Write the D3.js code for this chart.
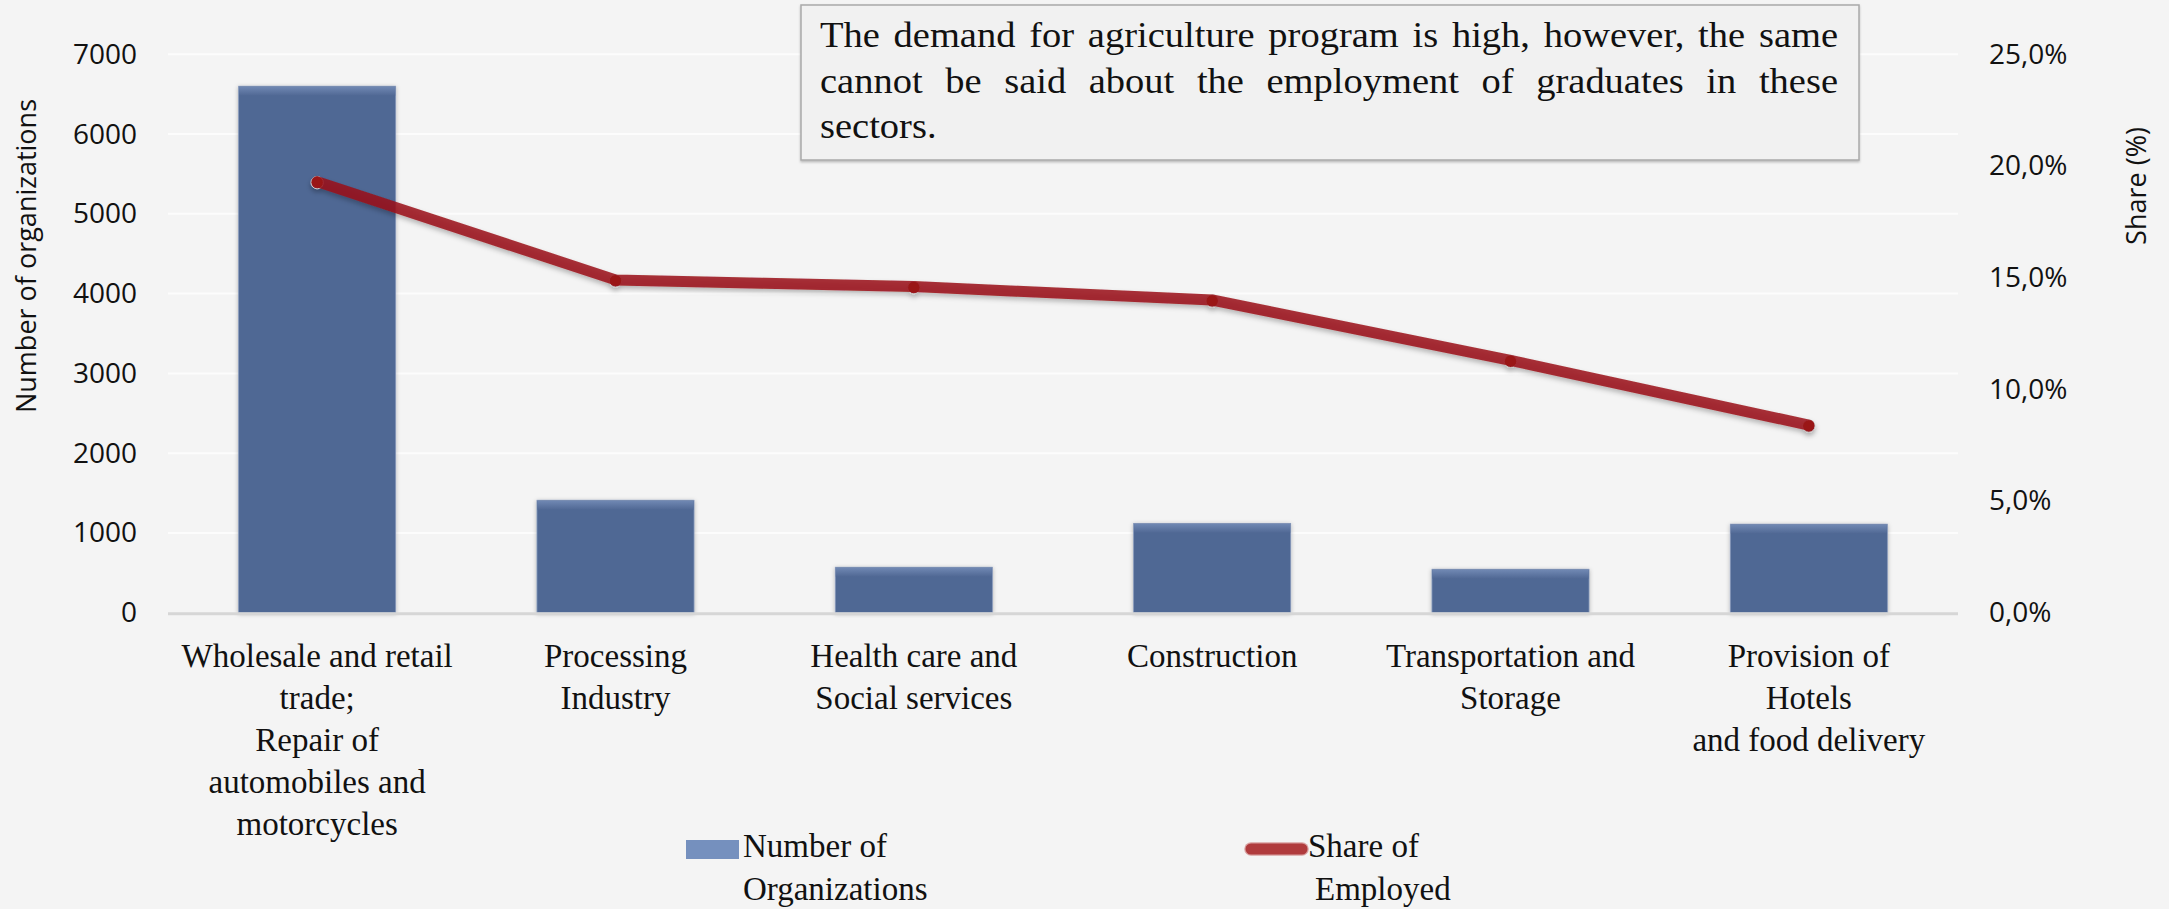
<!DOCTYPE html>
<html>
<head>
<meta charset="utf-8">
<script src="https://cdn.jsdelivr.net/npm/d3@7"></script>
<style>
  html, body { margin: 0; padding: 0; background: #f4f4f4; }
  svg { display: block; }
  .sans { font-family: "Open Sans", "Liberation Sans", sans-serif; fill: #111; }
  .serif { font-family: "Liberation Serif", "DejaVu Serif", serif; fill: #111; }
</style>
</head>
<body>
<svg id="chart" width="2169" height="909"></svg>
<script>
// Sectors shown along the x axis ("\n" marks a line break in the label)
const categories = [
  "Wholesale and retail\ntrade;\nRepair of\nautomobiles and\nmotorcycles",
  "Processing\nIndustry",
  "Health care and\nSocial services",
  "Construction",
  "Transportation and\nStorage",
  "Provision of\nHotels\nand food delivery"
];
// Number of organizations per sector (left axis)
const organizations = [6600, 1410, 570, 1120, 545, 1110];
// Share of employed graduates per sector, % (right axis)
const sharePct = [19.3, 14.9, 14.6, 14.0, 11.3, 8.4];
// Axis ticks
const leftTicks = [0, 1000, 2000, 3000, 4000, 5000, 6000, 7000];
const rightTicks = [0, 5, 10, 15, 20, 25];
// Annotation and legend text
const noteLines = [
  "The demand for agriculture program is high, however, the same",
  "cannot be said about the employment of graduates in these",
  "sectors."
];
const legendBar = ["Number of", "Organizations"];
const legendLine = ["Share of", "Employed"];

const svg = d3.select("#chart");
const W = 2169, H = 909;
const plot = { left: 168, right: 1958, top: 54.3, bottom: 612.7 };

svg.append("rect").attr("width", W).attr("height", H).attr("fill", "#f4f4f4");

// Effects
const defs = svg.append("defs");
const barShadow = defs.append("filter").attr("id", "barShadow")
  .attr("x", "-10%").attr("y", "-10%").attr("width", "120%").attr("height", "120%");
barShadow.append("feDropShadow").attr("dx", 0).attr("dy", 1).attr("stdDeviation", 2)
  .attr("flood-color", "#000").attr("flood-opacity", 0.28);
const lineShadow = defs.append("filter").attr("id", "lineShadow")
  .attr("x", "-5%").attr("y", "-20%").attr("width", "110%").attr("height", "140%");
lineShadow.append("feDropShadow").attr("dx", 0).attr("dy", 3).attr("stdDeviation", 2.5)
  .attr("flood-color", "#000").attr("flood-opacity", 0.3);
const topGlow = defs.append("linearGradient").attr("id", "barTop")
  .attr("x1", 0).attr("y1", 0).attr("x2", 0).attr("y2", 1);
topGlow.append("stop").attr("offset", "0%").attr("stop-color", "#7088b3");
topGlow.append("stop").attr("offset", "100%").attr("stop-color", "#506894");
const boxShadow = defs.append("filter").attr("id", "boxShadow")
  .attr("x", "-2%").attr("y", "-5%").attr("width", "104%").attr("height", "115%");
boxShadow.append("feDropShadow").attr("dx", 0).attr("dy", 1.5).attr("stdDeviation", 1.2)
  .attr("flood-color", "#000").attr("flood-opacity", 0.25);

// Scales
const x = d3.scaleBand().domain(categories).range([plot.left, plot.right])
  .paddingInner(0.4735).paddingOuter(0.4735 / 2);
const y = d3.scaleLinear().domain([0, 7000]).range([plot.bottom, plot.top]);
const yR = d3.scaleLinear().domain([0, 25]).range([plot.bottom, plot.top]);

// Gridlines
svg.append("g").selectAll("line").data(leftTicks.filter(d => d > 0)).join("line")
  .attr("x1", plot.left).attr("x2", plot.right)
  .attr("y1", d => y(d)).attr("y2", d => y(d))
  .attr("stroke", "#fcfcfc").attr("stroke-width", 2);

// Bars
const bars = svg.append("g");
bars.selectAll("rect.bar").data(organizations).join("rect").attr("class", "bar")
  .attr("x", (d, i) => x(categories[i])).attr("width", x.bandwidth())
  .attr("y", d => y(d)).attr("height", d => y(0) - y(d))
  .attr("fill", "#506894").attr("stroke", "#8799bb").attr("stroke-width", 0.8)
  .attr("filter", "url(#barShadow)");
bars.selectAll("rect.glow").data(organizations).join("rect").attr("class", "glow")
  .attr("x", (d, i) => x(categories[i]) + 0.5).attr("width", x.bandwidth() - 1)
  .attr("y", d => y(d) + 0.5).attr("height", 9)
  .attr("fill", "url(#barTop)");

// Category baseline
svg.append("line").attr("x1", plot.left).attr("x2", plot.right)
  .attr("y1", y(0) + 1).attr("y2", y(0) + 1)
  .attr("stroke", "#d6d6d6").attr("stroke-width", 3);

// Left axis
const axL = svg.append("g").attr("transform", `translate(${plot.left},0)`)
  .call(d3.axisLeft(y).tickValues(leftTicks).tickSize(0).tickPadding(31).tickFormat(d3.format("d")));
axL.select(".domain").remove();
axL.selectAll("text").attr("font-size", 28).attr("fill", "#111")
  .style("font-family", "'Open Sans', 'Liberation Sans', sans-serif");

// Right axis
const axR = svg.append("g").attr("transform", `translate(${plot.right},0)`)
  .call(d3.axisRight(yR).tickValues(rightTicks).tickSize(0).tickPadding(31)
    .tickFormat(d => d.toFixed(1).replace(".", ",") + "%"));
axR.select(".domain").remove();
axR.selectAll("text").attr("font-size", 28).attr("fill", "#111")
  .style("font-family", "'Open Sans', 'Liberation Sans', sans-serif");

// Axis titles
svg.append("text").attr("class", "sans").attr("font-size", 27)
  .attr("transform", "translate(36,256) rotate(-90)")
  .attr("text-anchor", "middle").text("Number of organizations");
svg.append("text").attr("class", "sans").attr("font-size", 27)
  .attr("transform", "translate(2146,186) rotate(-90)")
  .attr("text-anchor", "middle").text("Share (%)");

// Share line
const cx = (d, i) => x(categories[i]) + x.bandwidth() / 2;
const line = d3.line().x(cx).y(d => yR(d));
const lineG = svg.append("g").attr("filter", "url(#lineShadow)");
lineG.selectAll("circle").data(sharePct).join("circle")
  .attr("cx", cx).attr("cy", d => yR(d) + 1).attr("r", 6.2)
  .attr("fill", "#9a1e24").attr("stroke", "#c9c9c9").attr("stroke-width", 1);
lineG.append("path").datum(sharePct).attr("d", line)
  .attr("fill", "none").attr("stroke", "#9a1016").attr("stroke-opacity", 0.85)
  .attr("stroke-width", 11).attr("stroke-linecap", "round").attr("stroke-linejoin", "round");

// Category labels
const catG = svg.append("g");
categories.forEach((c, i) => {
  const t = catG.append("text").attr("class", "serif").attr("font-size", 33)
    .attr("text-anchor", "middle");
  c.split("\n").forEach((ln, j) => {
    t.append("tspan").attr("x", cx(null, i)).attr("y", 667 + j * 42).text(ln);
  });
});

// Annotation box
svg.append("rect").attr("x", 801).attr("y", 5).attr("width", 1058).attr("height", 155)
  .attr("fill", "#f1f1f1").attr("stroke", "#a9a9a9").attr("stroke-width", 1.5)
  .attr("filter", "url(#boxShadow)");
const stretch = 1.1, textLeft = 820, textWidth = 1018;
const baselines = [47, 92.5, 138];
noteLines.forEach((ln, li) => {
  const g = svg.append("g")
    .attr("transform", `translate(${textLeft},${baselines[li]}) scale(${stretch},1)`);
  const words = ln.split(" ");
  const nodes = words.map(w => g.append("text").attr("class", "serif")
    .attr("font-size", 35).text(w));
  const widths = nodes.map(n => n.node().getComputedTextLength());
  const inner = textWidth / stretch;
  const justify = li < noteLines.length - 1 && words.length > 1;
  const gap = justify ? (inner - d3.sum(widths)) / (words.length - 1) : 35 * 0.25;
  let pos = 0;
  nodes.forEach((n, k) => { n.attr("x", pos); pos += widths[k] + gap; });
});

// Legend
svg.append("rect").attr("x", 686).attr("y", 840).attr("width", 53).attr("height", 19)
  .attr("fill", "#7590be");
const lt1 = svg.append("text").attr("class", "serif").attr("font-size", 33);
legendBar.forEach((s, j) => lt1.append("tspan").attr("x", 743).attr("y", 857 + j * 43).text(s));

svg.append("line").attr("x1", 1251).attr("x2", 1302).attr("y1", 849).attr("y2", 849)
  .attr("stroke", "#d9a0a0").attr("stroke-width", 13.5).attr("stroke-linecap", "round");
svg.append("line").attr("x1", 1251).attr("x2", 1302).attr("y1", 849).attr("y2", 849)
  .attr("stroke", "#b03b3d").attr("stroke-width", 11).attr("stroke-linecap", "round");
const lt2 = svg.append("text").attr("class", "serif").attr("font-size", 33);
legendLine.forEach((s, j) => lt2.append("tspan").attr("x", j === 0 ? 1308 : 1315).attr("y", 857 + j * 43).text(s));
</script>
</body>
</html>
